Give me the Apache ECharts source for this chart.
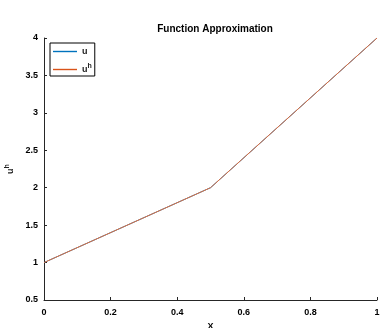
<!DOCTYPE html>
<html>
<head>
<meta charset="utf-8">
<script src="https://cdn.jsdelivr.net/npm/echarts@6/dist/echarts.min.js"></script>
<style>html,body{margin:0;padding:0;background:#fff}#c{width:380px;height:328px}</style>
</head>
<body>
<div id="c"></div>
<script>
// Nodal values of the exact function u and its piecewise-linear approximation u^h
const xNodes = [0, 0.5, 1];
const uExact = [1, 2, 4];
const uApprox = [1, 2, 4];
const xTicks = [0, 0.2, 0.4, 0.6, 0.8, 1];
const yTicks = [0.5, 1, 1.5, 2, 2.5, 3, 3.5, 4];

const font = 'Liberation Sans, Arial, sans-serif';
const pair = (xs, ys) => xs.map((x, i) => [x, ys[i]]);
const supRich = {
  b: {fontFamily: font, fontSize: 9, fontWeight: 'bold', color: '#222'},
  s: {fontFamily: font, fontSize: 7, fontWeight: 'bold', color: '#222', verticalAlign: 'top', padding: [0, 0, 6, 0]}
};

const chart = echarts.init(document.getElementById('c'));
chart.setOption({
  animation: false,
  title: {
    text: 'Function Approximation',
    left: 210, top: 19, textAlign: 'center',
    textStyle: {fontFamily: font, fontSize: 10, fontWeight: 'bold', color: '#000'}
  },
  grid: {left: 44, right: 3, top: 38, bottom: 28, outerBoundsMode: 'none', containLabel: false},
  legend: {
    left: 50, top: 43, orient: 'vertical',
    itemWidth: 24, itemHeight: 1.4, itemGap: 7,
    padding: [4, 3, 2, 3],
    borderColor: '#000', borderWidth: 1, backgroundColor: '#fff',
    icon: 'rect',
    itemStyle: {borderWidth: 0},
    data: ['u', 'uh'],
    formatter: n => n === 'uh' ? '{b|u}{s|h}' : '{b|u}',
    textStyle: {fontFamily: font, fontSize: 9, color: '#000', rich: supRich}
  },
  xAxis: {
    type: 'value', min: 0, max: 1, interval: 0.2,
    name: 'X', nameLocation: 'middle', nameGap: 20,
    nameTextStyle: {fontFamily: font, fontSize: 9, fontWeight: 'bold', color: '#000'},
    axisLine: {lineStyle: {color: '#262626', width: 1}},
    axisTick: {inside: true, length: 3, lineStyle: {color: '#262626'}},
    splitLine: {show: false},
    axisLabel: {
      fontFamily: font, fontSize: 9, fontWeight: 'bold', color: '#000', margin: 8,
      formatter: v => xTicks.includes(+v.toFixed(1)) ? String(+v.toFixed(1)) : ''
    }
  },
  yAxis: {
    type: 'value', min: 0.5, max: 4, interval: 0.5,
    name: '{b|u}{s|h}', nameLocation: 'middle', nameGap: 18, nameRotate: 90,
    nameTextStyle: {fontFamily: font, fontSize: 9, color: '#000', rich: supRich},
    axisLine: {show: true, lineStyle: {color: '#262626', width: 1}},
    axisTick: {show: true, inside: true, length: 3, lineStyle: {color: '#262626'}},
    splitLine: {show: false},
    axisLabel: {
      fontFamily: font, fontSize: 9, fontWeight: 'bold', color: '#000', margin: 6,
      formatter: v => yTicks.includes(v) ? String(v) : ''
    }
  },
  series: [
    {name: 'u', type: 'line', data: pair(xNodes, uExact), symbol: 'none',
     color: '#0072BD', lineStyle: {width: 1, color: '#0072BD'}},
    {name: 'uh', type: 'line', data: pair(xNodes, uApprox), symbol: 'none',
     color: '#D95319', lineStyle: {width: 1, color: '#E07040'}}
  ]
});
</script>
</body>
</html>
